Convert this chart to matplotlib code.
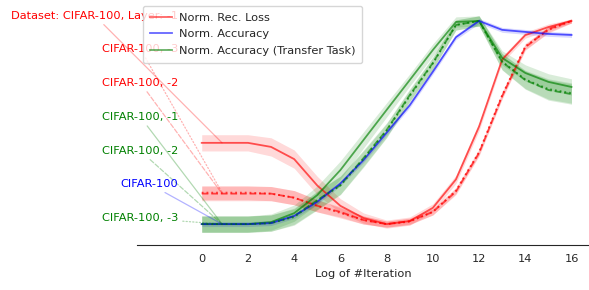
#!/usr/bin/env python3

import numpy as np
import matplotlib
matplotlib.use("Agg")
from matplotlib import pyplot as plt
from matplotlib.lines import Line2D

# log2 of iteration count
ITERS = np.arange(17)

# normalized reconstruction loss per layer (CIFAR-100)
REC_LOSS_L1 = [0.40, 0.40, 0.40, 0.38, 0.32, 0.19, 0.09, 0.03, 0.0, 0.015, 0.08, 0.22, 0.48, 0.81, 0.93, 0.97, 1.0]
REC_LOSS_L2 = [0.15, 0.15, 0.15, 0.15, 0.13, 0.09, 0.06, 0.02, 0.0, 0.015, 0.06, 0.16, 0.35, 0.63, 0.87, 0.96, 1.0]
REC_LOSS_L3 = [0.155, 0.155, 0.155, 0.15, 0.13, 0.09, 0.055, 0.02, 0.0, 0.012, 0.06, 0.165, 0.355, 0.635, 0.875, 0.955, 1.0]
REC_LOSS_L1_STD = [0.04, 0.04, 0.04, 0.045, 0.045, 0.045, 0.035, 0.025, 0.02, 0.02, 0.02, 0.02, 0.02, 0.015, 0.015, 0.015, 0.01]
REC_LOSS_L23_STD = [0.035, 0.035, 0.035, 0.035, 0.035, 0.03, 0.025, 0.02, 0.015, 0.015, 0.015, 0.015, 0.015, 0.015, 0.015, 0.015, 0.01]

# normalized accuracy on the training task
ACC = [0.0, 0.0, 0.0, 0.005, 0.04, 0.11, 0.20, 0.315, 0.45, 0.585, 0.75, 0.92, 1.0, 0.956, 0.946, 0.936, 0.931]
ACC_STD = [0.012] * 17

# normalized accuracy on the transfer task per layer
TRANSFER_L1 = [0.0, 0.0, 0.0, 0.01, 0.054, 0.143, 0.266, 0.414, 0.562, 0.709, 0.857, 0.995, 1.0, 0.818, 0.744, 0.70, 0.675]
TRANSFER_L2 = [0.0, 0.0, 0.0, 0.005, 0.039, 0.118, 0.192, 0.325, 0.463, 0.635, 0.793, 0.98, 1.0, 0.798, 0.709, 0.66, 0.64]
TRANSFER_L3 = [0.0, 0.0, 0.0, 0.005, 0.035, 0.115, 0.19, 0.32, 0.46, 0.63, 0.79, 0.98, 1.0, 0.80, 0.712, 0.665, 0.645]
TRANSFER_L1_STD = [0.04, 0.04, 0.04, 0.04, 0.04, 0.045, 0.045, 0.04, 0.035, 0.03, 0.03, 0.025, 0.025, 0.035, 0.04, 0.04, 0.04]
TRANSFER_L23_STD = [0.04, 0.04, 0.04, 0.04, 0.04, 0.045, 0.045, 0.04, 0.035, 0.03, 0.03, 0.025, 0.025, 0.04, 0.045, 0.05, 0.05]

LABELS = ["Dataset: CIFAR-100, Layer: -1", "CIFAR-100, -3", "CIFAR-100, -2",
          "CIFAR-100, -1", "CIFAR-100, -2", "CIFAR-100", "CIFAR-100, -3"]
LABEL_Y = [1.025, 0.862, 0.695, 0.527, 0.36, 0.197, 0.03]

FS = 8.2


def plot(output_file):
    fig = plt.figure(figsize=(5.89, 2.9), dpi=100)
    ax = fig.add_axes([137 / 589, 0.155, 453 / 589, 0.845])

    series = [
        (REC_LOSS_L1, REC_LOSS_L1_STD, 'red', '-'),
        (REC_LOSS_L3, REC_LOSS_L23_STD, 'red', ':'),
        (REC_LOSS_L2, REC_LOSS_L23_STD, 'red', '--'),
        (TRANSFER_L1, TRANSFER_L1_STD, 'green', '-'),
        (TRANSFER_L2, TRANSFER_L23_STD, 'green', '--'),
        (ACC, ACC_STD, 'blue', '-'),
        (TRANSFER_L3, TRANSFER_L23_STD, 'green', ':'),
    ]

    for (vals, std, color, ls), label, ly in zip(series, LABELS, LABEL_Y):
        vals = np.array(vals)
        std = np.array(std)
        ax.plot(ITERS, vals, color=color, linestyle=ls, linewidth=1.3, alpha=0.65)
        ax.fill_between(ITERS, vals - std, vals + std, color=color, alpha=0.15, linewidth=0)
        # label on the left, thin leader line to the curve
        ax.annotate(label, xy=(0.88, vals[1]), xytext=(-1, ly),
                    ha='right', va='center', color=color, fontsize=FS,
                    annotation_clip=False,
                    arrowprops=dict(arrowstyle='-', color=color, linestyle=ls,
                                    linewidth=0.9, alpha=0.3,
                                    shrinkA=1, shrinkB=0))

    handles = [
        Line2D([], [], color='red', alpha=0.6, linewidth=1.3),
        Line2D([], [], color='blue', alpha=0.6, linewidth=1.3),
        Line2D([], [], color='green', alpha=0.6, linewidth=1.3),
    ]
    ax.legend(handles, ["Norm. Rec. Loss", "Norm. Accuracy", "Norm. Accuracy (Transfer Task)"],
              loc='upper left', fontsize=FS, labelcolor='.15',
              borderpad=0.6, labelspacing=0.6, handletextpad=0.6)

    ax.set_xlim(-2.8, 16.8)
    ax.set_ylim(-0.103, 1.103)
    ax.set_xticks(range(0, 17, 2))
    ax.set_yticks([])
    for side in ['left', 'top', 'right']:
        ax.spines[side].set_visible(False)
    ax.spines['bottom'].set_color('.15')
    ax.tick_params(axis='x', length=0, pad=6.2, labelsize=FS, labelcolor='.15')
    ax.set_xlabel("Log of #Iteration", fontsize=FS, color='.15', labelpad=3.7)

    fig.savefig(output_file, dpi=100)


if __name__ == "__main__":
    plot("out.png")
